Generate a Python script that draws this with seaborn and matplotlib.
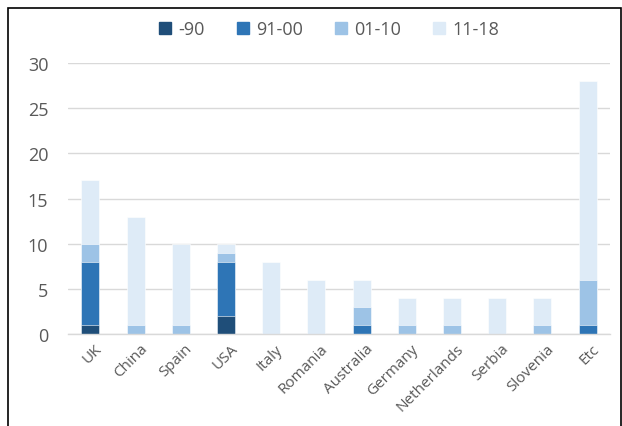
import numpy as np
import pandas as pd
import seaborn as sns
import matplotlib.pyplot as plt
import matplotlib.transforms as mtransforms
from matplotlib.lines import Line2D
from matplotlib.patches import Rectangle

countries = ['UK', 'China', 'Spain', 'USA', 'Italy', 'Romania', 'Australia',
             'Germany', 'Netherlands', 'Serbia', 'Slovenia', 'Etc']
p90 = [1, 0, 0, 2, 0, 0, 0, 0, 0, 0, 0, 0]
p91_00 = [7, 0, 0, 6, 0, 0, 1, 0, 0, 0, 0, 1]
p01_10 = [2, 1, 1, 1, 0, 0, 2, 1, 1, 0, 1, 5]
p11_18 = [7, 12, 9, 1, 8, 6, 3, 3, 3, 4, 3, 22]

periods = ['-90', '91-00', '01-10', '11-18']
colors = ['#1F4E79', '#2E75B6', '#9DC3E6', '#DEEBF7']

df = pd.DataFrame({'country': countries, '-90': p90, '91-00': p91_00,
                   '01-10': p01_10, '11-18': p11_18})
# cumulative sums for stacking
cum = df[periods].cumsum(axis=1)

sns.set_theme(style='white')
plt.rcParams['font.family'] = ['Open Sans', 'DejaVu Sans']

fig = plt.figure(figsize=(6.22, 4.27), dpi=100)
ax = fig.add_axes([0.109, 0.2155, 0.872, 0.6345])

# draw from the top of the stack downwards so lower segments overlay
for p, c in zip(periods[::-1], colors[::-1]):
    sns.barplot(x=df['country'], y=cum[p], color=c, width=0.4, ax=ax,
                saturation=1, edgecolor='white', linewidth=0.4)

ax.set_ylim(0, 30)
ax.set_yticks(range(0, 31, 5))
ax.set_xlim(-0.5, len(countries) - 0.5)
ax.set_xlabel('')
ax.set_ylabel('')
ax.yaxis.grid(True, color='#D9D9D9', linewidth=1)
ax.set_axisbelow(True)
for s in ['top', 'right', 'left']:
    ax.spines[s].set_visible(False)
ax.spines['bottom'].set_color('#D9D9D9')
ax.spines['bottom'].set_linewidth(1)

ax.tick_params(axis='y', length=0, labelsize=13, labelcolor='#595959', pad=14)
ax.tick_params(axis='x', which='major', length=0, labelsize=11, labelcolor='#595959', pad=5)
ax.set_xticks(np.arange(-0.5, len(countries)), minor=True)
ax.tick_params(axis='x', which='minor', length=5, color='#D9D9D9', width=1)
shift = mtransforms.ScaledTranslation(4 / 100, 0, fig.dpi_scale_trans)
for lab in ax.get_xticklabels():
    lab.set_rotation(45)
    lab.set_ha('right')
    lab.set_rotation_mode('anchor')
    lab.set_transform(lab.get_transform() + shift)

handles = [Line2D([0], [0], marker='s', linestyle='', markersize=8,
                  markerfacecolor=c, markeredgecolor=c, label=p)
           for p, c in zip(periods, colors)]
fig.legend(handles=handles, loc='center', bbox_to_anchor=(0.529, 0.93), ncol=4,
           frameon=False, fontsize=13, labelcolor='#595959',
           handlelength=0.7, handletextpad=0.4, columnspacing=1.75)

fig.patches.append(Rectangle((8 / 622, -0.05), 613 / 622, 1.05 - 9 / 427,
                             transform=fig.transFigure, fill=False,
                             edgecolor='black', linewidth=1.2))

fig.savefig('out.png', dpi=100)
